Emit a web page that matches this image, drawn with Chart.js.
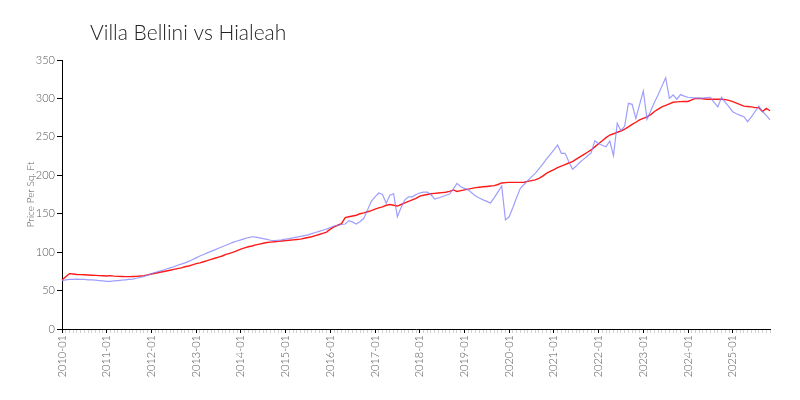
<!DOCTYPE html>
<html>
<head>
<meta charset="utf-8">
<script src="https://cdn.jsdelivr.net/npm/chart.js@4/dist/chart.umd.min.js"></script>
<style>
  html, body { margin: 0; padding: 0; background: #fff; }
  #wrap { width: 800px; height: 400px; position: relative; }
</style>
</head>
<body>
<div id="wrap"><canvas id="chart"></canvas></div>
<script>
// monthly values, 2010-01 .. 2025-11
const startYear = 2010;
const monthCount = 191;

// Villa Bellini (blue)
const villaBellini = [
  63, 64, 64.5, 64.5, 65, 64.5, 64.5, 64, 64, 63.5, 63, 62.5,
  62, 62, 62.5, 63, 63.5, 64, 64.5, 65, 66, 67, 68.5, 70,
  72, 73.5, 75, 76.5, 78, 79.5, 81, 83, 84.5, 86, 88, 90,
  92.5, 95, 97, 99, 101, 103, 105, 107, 109, 111, 113, 114.5,
  116, 117.5, 119, 120, 119.5, 118.5, 117.5, 116.5, 115.5, 115, 115.5, 116,
  117, 117.5, 118.5, 119.5, 120.5, 121.5, 122.5, 124, 125.5, 127, 128.5, 130,
  132, 134, 135, 136, 136.6, 141, 139, 136.6, 140, 144, 155, 166,
  172, 177, 175, 163.5, 174, 176, 146, 158, 168, 172, 172, 175,
  177, 178, 178, 175, 169, 170.5, 172, 174, 175.6, 182, 189.5, 185,
  183, 181, 177, 173, 170.5, 168, 166, 164, 171, 178.5, 186, 142,
  146, 158, 171, 183, 188, 193, 198, 202.5, 208.5, 214.5, 221, 227,
  233, 239.4, 228.6, 228.6, 218, 207.8, 212, 217, 221, 225, 229, 245,
  241, 239, 237, 244.6, 225.5, 267.6, 258, 264, 293.6, 292.3, 274, 292,
  309.7, 273, 284, 295, 305, 316, 327, 300, 304.5, 299, 305, 303,
  301.5, 301, 300.5, 300.5, 300.5, 301, 301.5, 295, 289, 301.5, 295, 289,
  282.7, 280, 278, 276.3, 269.7, 276, 283, 290, 283, 278, 272
];

// Hialeah (red)
const hialeah = [
  63.7, 68, 72, 71.5, 71, 70.8, 70.5, 70.2, 70, 69.8, 69.5, 69.2,
  69, 69.5, 68.8, 68.5, 68.3, 68.2, 68.2, 68.3, 68.5, 69, 69.5, 70.5,
  71.6, 72.5, 73.5, 74.5, 75.5, 76.5, 77.5, 78.5, 79.5, 81, 82, 83.5,
  85, 86, 87.5, 89, 90.5, 92, 93.5, 95, 97, 98.5, 100, 102,
  104, 105.5, 107, 108, 109.5, 110.5, 111.5, 112.5, 113, 113.5, 114, 114.5,
  115, 115.5, 116, 116.5, 117, 118, 119, 120, 121.5, 123, 124.5, 126,
  130, 133, 135, 137, 145, 146, 147, 148, 150, 151, 152.5, 154,
  156, 157.5, 159, 161, 162, 161, 160, 162, 164, 166, 168, 170,
  173, 174, 175, 176, 176.5, 177, 177.5, 178, 179, 181, 179, 180,
  181, 182, 183, 184, 184.5, 185, 185.5, 186, 186.5, 188, 190, 190.5,
  190.8, 190.8, 190.8, 190.8, 191, 192, 193, 194, 196, 199, 202.5, 205,
  207.5, 210, 212, 214, 216, 217.7, 221, 224, 227, 230, 233, 237,
  241, 245, 249, 252.4, 254, 256, 257.6, 260, 263, 266.3, 269, 272,
  274, 276, 279, 283, 286, 289, 291, 293, 295, 295.5, 295.8, 296,
  296, 298, 300, 300, 299.5, 299, 299, 299, 299, 299, 298.5, 297.5,
  295.8, 294, 292, 290, 289.5, 289, 288, 288, 283, 287, 284
];

const yTicks = [0, 50, 100, 150, 200, 250, 300, 350];

const months = [];
for (let i = 0; i < monthCount; i++) {
  const y = startYear + Math.floor(i / 12);
  const m = (i % 12) + 1;
  months.push(y + '-' + (m < 10 ? '0' + m : m));
}
const isYearStart = idx => months[idx] && months[idx].endsWith('-01');

const FONT = 'Lato, "Open Sans", sans-serif';

// draws the title a bit in from the plot's left edge
const titlePlugin = {
  id: 'leftTitle',
  afterDraw(chart) {
    const ctx = chart.ctx;
    ctx.save();
    ctx.font = '300 21px ' + FONT;
    ctx.fillStyle = '#222';
    ctx.textBaseline = 'middle';
    ctx.fillText('Villa Bellini vs Hialeah', 90, 33);
    ctx.restore();
  }
};

new Chart(document.getElementById('chart'), {
  type: 'line',
  data: {
    labels: months,
    datasets: [
      {
        label: 'Villa Bellini',
        data: villaBellini,
        borderColor: 'rgba(125, 125, 255, 0.75)',
        borderWidth: 1.2,
        pointRadius: 0,
        tension: 0
      },
      {
        label: 'Hialeah',
        data: hialeah,
        borderColor: '#ff1a1a',
        borderWidth: 1.4,
        pointRadius: 0,
        tension: 0
      }
    ]
  },
  options: {
    responsive: true,
    maintainAspectRatio: false,
    animation: false,
    layout: { padding: { top: 60, right: 30, left: 0, bottom: 0 } },
    plugins: {
      legend: { display: false },
      tooltip: { enabled: false }
    },
    scales: {
      x: {
        offset: false,
        border: { color: '#000', width: 1 },
        grid: {
          drawOnChartArea: false,
          drawTicks: true,
          tickLength: 4,
          color: ctx => isYearStart(ctx.index) ? '#000' : '#d0d0d0'
        },
        ticks: {
          autoSkip: false,
          minRotation: 90,
          maxRotation: 90,
          padding: 2,
          color: '#555',
          font: { family: FONT, size: 11, weight: '300' },
          callback: (val, idx) => isYearStart(idx) ? months[idx] : ''
        },
        afterFit: scale => { scale.height = 71; }
      },
      y: {
        min: 0,
        max: 350,
        border: { color: '#000', width: 1 },
        grid: {
          drawOnChartArea: false,
          drawTicks: true,
          tickLength: 5,
          color: '#000'
        },
        afterBuildTicks: scale => {
          scale.ticks = yTicks.map(v => ({ value: v }));
        },
        ticks: {
          color: '#555',
          padding: 2,
          font: { family: FONT, size: 11, weight: '300' }
        },
        title: {
          display: true,
          text: 'Price Per Sq. Ft',
          color: '#555',
          padding: { top: 25, bottom: 0 },
          font: { family: FONT, size: 10, weight: '300' }
        },
        afterFit: scale => { scale.width = 62; }
      }
    }
  },
  plugins: [titlePlugin]
});
</script>
</body>
</html>
